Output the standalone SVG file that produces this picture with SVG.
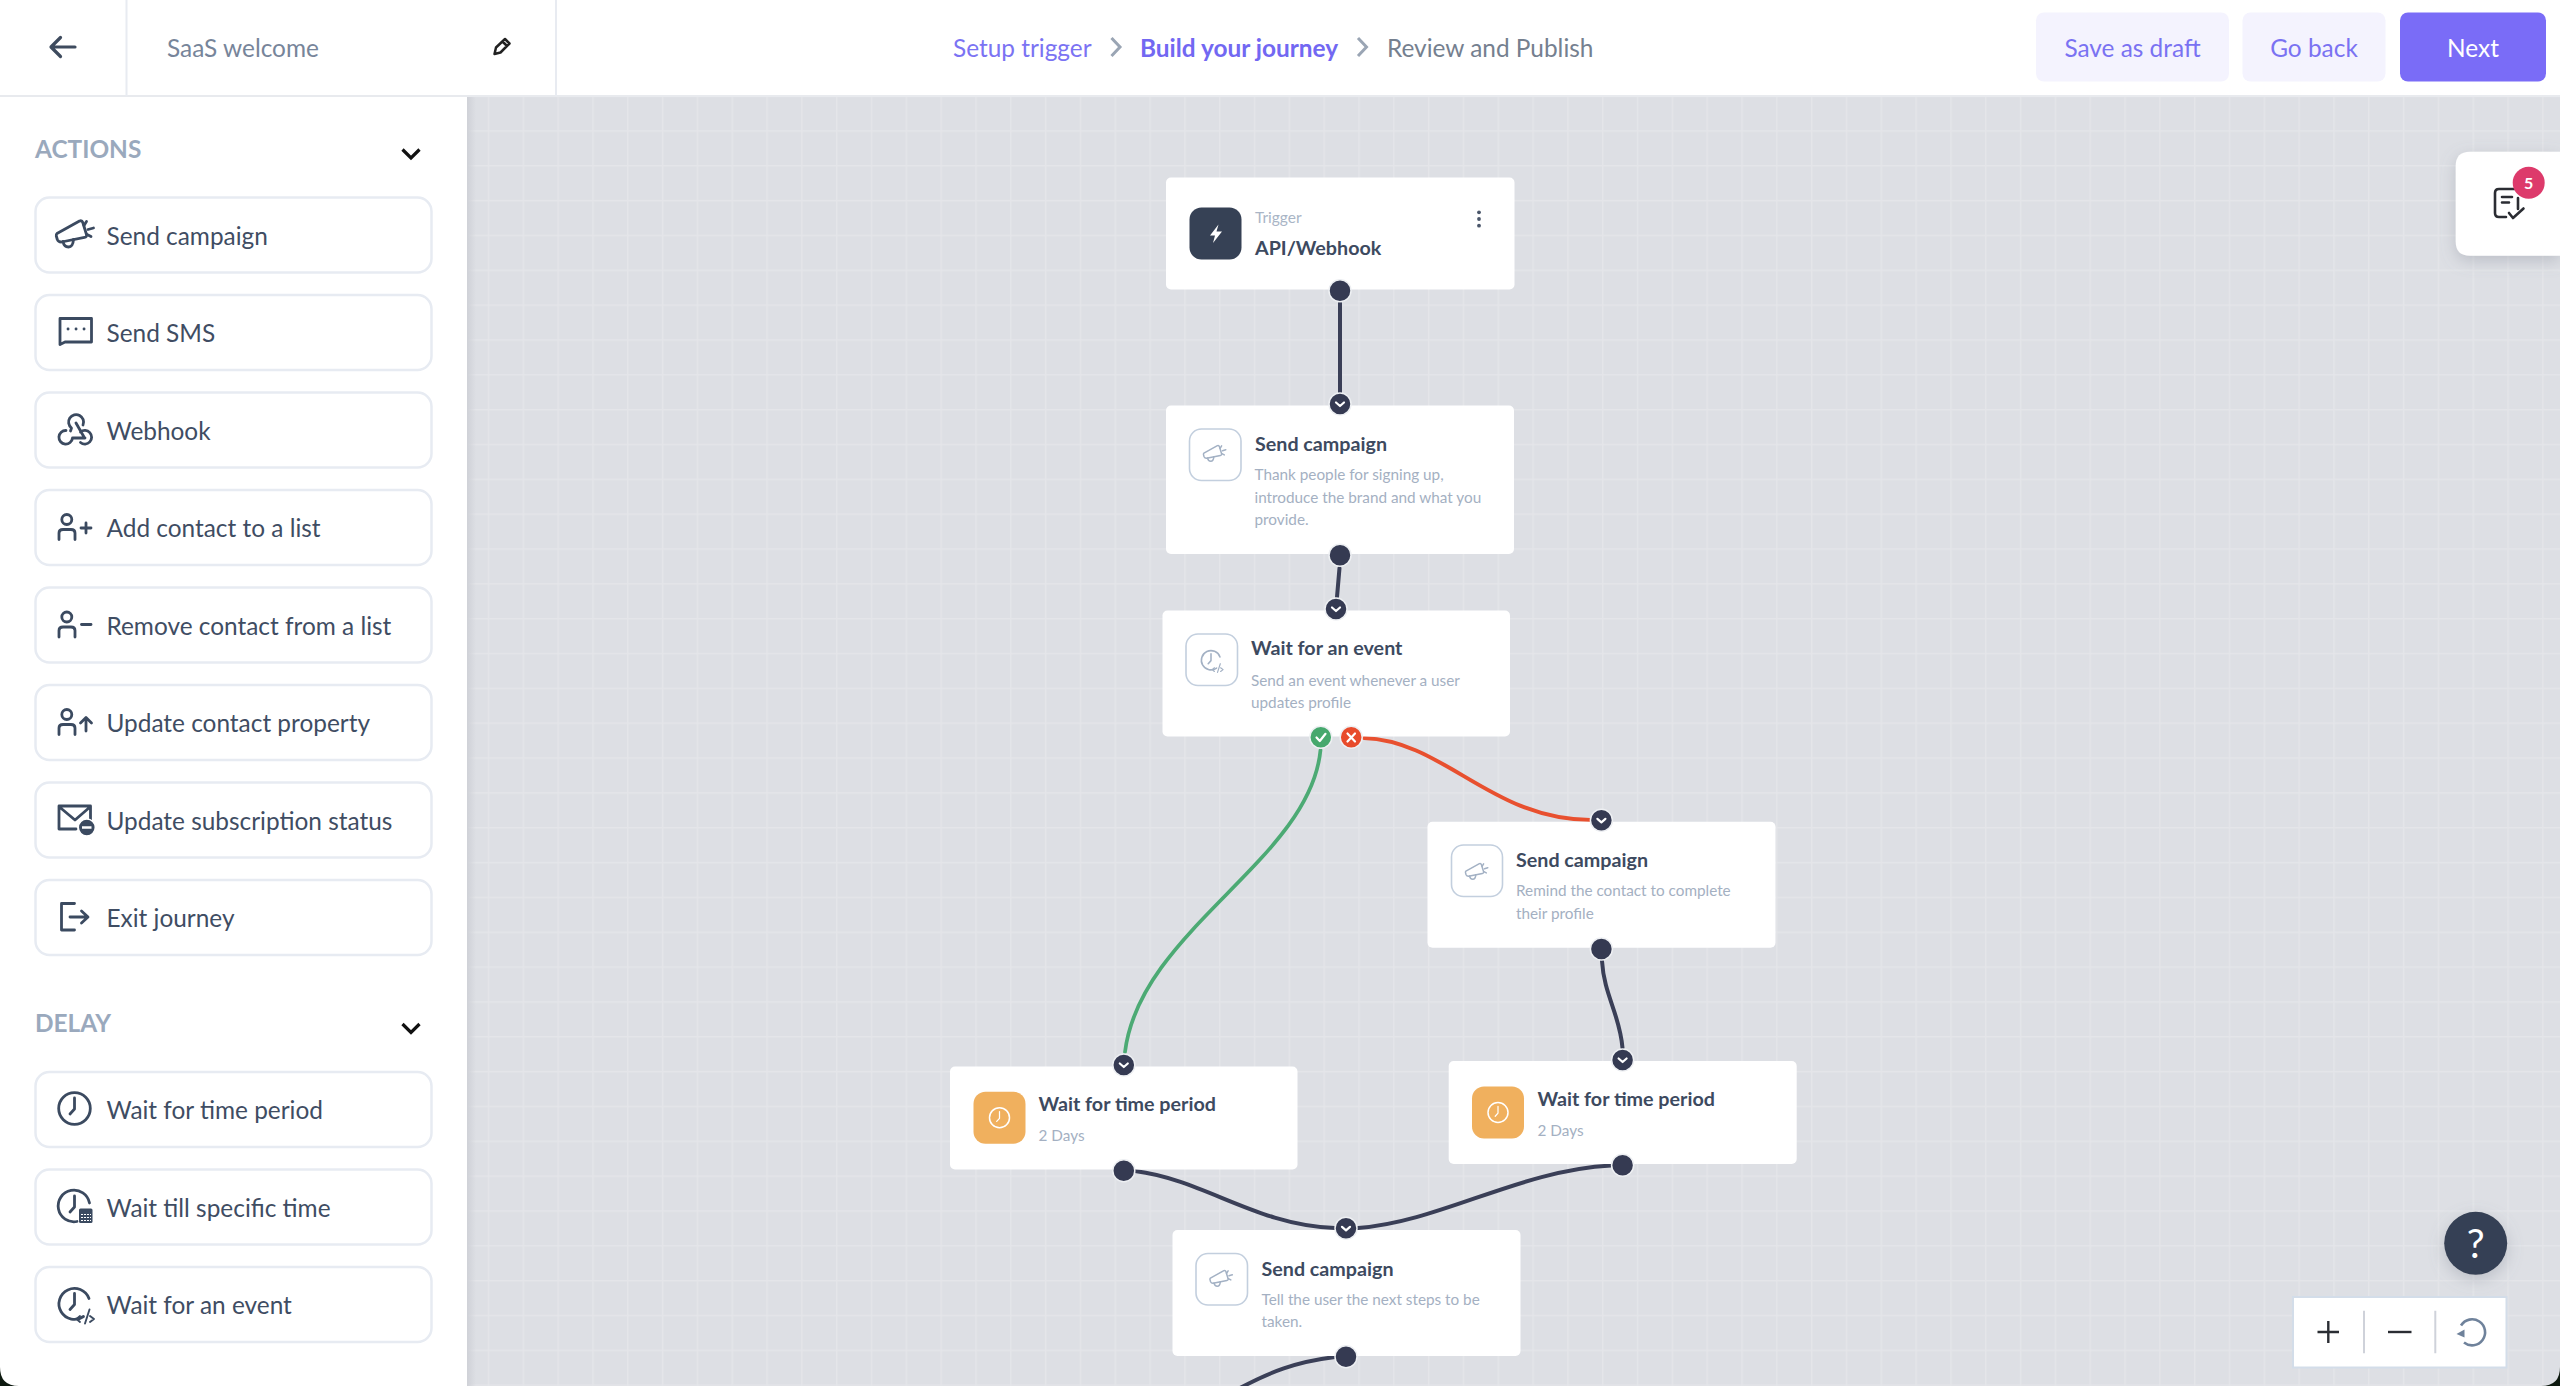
<svg xmlns="http://www.w3.org/2000/svg" width="2560" height="1386" viewBox="0 0 2560 1386">
<style>
text{font-family:Lato,"Open Sans","Liberation Sans",sans-serif}
.btn{fill:#fff;stroke:#e7ebf2;stroke-width:2.5}
.lbl{font-size:24.4px;fill:#3f4d63}
.sec{font-size:24.4px;font-weight:700;fill:#9aa9bd}
.ic{fill:none;stroke:#3b4a60;stroke-width:2.8;stroke-linecap:round;stroke-linejoin:round}
.card{fill:#fff}
.tile{fill:#fff;stroke:#c3cfde;stroke-width:1.6}
.tt{font-size:19.7px;font-weight:700;fill:#3d4a5f}
.ds{font-size:15.3px;fill:#a4b0c2}
.nic{fill:none;stroke:#a3b1c4;stroke-linecap:round;stroke-linejoin:round}
.wic{fill:none;stroke:#fff;stroke-linecap:round;stroke-linejoin:round}
.in{fill:#353a52;stroke:#eef0f3;stroke-width:1.5}
.chev{fill:none;stroke:#fff;stroke-width:2.2;stroke-linecap:round;stroke-linejoin:round}
.wire{fill:none;stroke:#3a3f57;stroke-width:4;stroke-linecap:round}
.crumb{font-size:24.4px}
.act{font-size:24.4px;fill:#7a72f2}
.lite{fill:#f4f3fe}
</style>
<defs>
<pattern id="grid" patternUnits="userSpaceOnUse" x="0.3" y="25.7" width="34.82" height="34.84">
<rect width="34.82" height="34.84" fill="#dddfe4"/>
<rect x="0" y="0" width="1.5" height="34.84" fill="#e4e5e9"/>
<rect x="0" y="0" width="34.82" height="1.5" fill="#e4e5e9"/>
</pattern>
<linearGradient id="sh" x1="0" x2="1" y1="0" y2="0"><stop offset="0" stop-color="#cfd1d7"/><stop offset="1" stop-color="#cfd1d7" stop-opacity="0"/></linearGradient>
<filter id="soft" x="-40%" y="-40%" width="180%" height="180%"><feDropShadow dx="0" dy="5" stdDeviation="8" flood-color="#7b8190" flood-opacity=".35"/></filter>
<g id="mega">
<path d="M1.500 13.500 L24 1 Q26.500 .2 27.300 2.500 L31 14.500 Q31.500 17 29 17.400 L6 22 Q3 22.200 1.800 19.500 L.8 16 Q.6 14.300 1.500 13.500 Z"/>
<path d="M7.500 21.500 Q8.500 27 13 27 Q17.500 27 18 19.500"/>
<path d="M28.500 5.500 L31 1.500 M32.500 9.500 L38 8 M31.500 14.500 L35.500 16.500"/>
</g>
<g id="clockhand"><path d="M0 -10 V1 L-4.500 6"/></g>
<g id="evt">
<path d="M9 13 A15.500 15.500 0 1 1 14.500 -5"/><path d="M0 -10 V1 L-4.500 6"/>
<path d="M5.500 12.500 L2 15.500 L5.500 18.500 M15 6 L10.500 20 M15.500 12.500 L19.500 15.500 L15.500 18.500" stroke-width="1.900"/>
</g>
</defs>

<rect width="2560" height="1386" fill="url(#grid)"/>

<g id="topbar">
<rect width="2560" height="96" fill="#fff"/>
<rect y="95" width="2560" height="2" fill="#e8eaee"/>
<rect x="125.500" width="2" height="96" fill="#e8ebf1"/>
<rect x="555" width="2" height="96" fill="#e8ebf1"/>
<path d="M75 47 H52 M60.500 37.500 L51 47 L60.500 56.500" fill="none" stroke="#3e4b5e" stroke-width="3.200" stroke-linecap="round" stroke-linejoin="round"/>
<text x="167" y="56.500" font-size="24.400" fill="#77859a">SaaS welcome</text>
<path d="M494.500 54 L496 47.500 L505 39 L509.500 43.500 L500.500 52.500 Z M502.500 41.500 L507 46" fill="none" stroke="#222" stroke-width="2.500" stroke-linejoin="round"/>
<text class="crumb" x="953" y="56.500" fill="#7b73f3">Setup trigger</text>
<path d="M1111.500 38 L1120 47 L1111.500 56" fill="none" stroke="#9aa5b4" stroke-width="3"/>
<text class="crumb" x="1140" y="56.500" font-weight="700" fill="#7268f2">Build your journey</text>
<path d="M1358 38 L1366.500 47 L1358 56" fill="none" stroke="#9aa5b4" stroke-width="3"/>
<text class="crumb" x="1387" y="56.500" fill="#75808f">Review and Publish</text>
<rect class="lite" x="2036" y="12.500" width="193" height="69" rx="8"/>
<text class="act" x="2132.500" y="56.500" text-anchor="middle">Save as draft</text>
<rect class="lite" x="2242.500" y="12.500" width="143" height="69" rx="8"/>
<text class="act" x="2314" y="56.500" text-anchor="middle">Go back</text>
<rect x="2400" y="12.500" width="146" height="69" rx="8" fill="#7a6cf7"/>
<text x="2473" y="56.500" font-size="24.400" fill="#fff" text-anchor="middle">Next</text>
</g>

<g id="sidebar">
<rect y="97" width="467" height="1289" fill="#fff"/>
<rect x="467" y="97" width="9" height="1289" fill="url(#sh)"/>
<text class="sec" x="35" y="157.500">ACTIONS</text>
<path d="M402.500 149.500 L411 158 L419.500 149.500" fill="none" stroke="#111" stroke-width="3.200"/>
<text class="sec" x="35" y="1031.500">DELAY</text>
<path d="M402.500 1024 L411 1032.500 L419.500 1024" fill="none" stroke="#111" stroke-width="3.200"/>

<g id="item-send-campaign"><rect class="btn" x="35.500" y="197.500" width="396" height="75" rx="14"/><use href="#mega" class="ic" x="55.500" y="220"/><text class="lbl" x="106.500" y="244.500">Send campaign</text></g>

<g id="item-send-sms"><rect class="btn" x="35.500" y="295" width="396" height="75" rx="14"/>
<path class="ic" d="M60 344.500 V318.500 H91.500 V342 H65 Z"/><path class="ic" d="M68 329 h.1 M76 329 h.1 M84 329 h.1"/>
<text class="lbl" x="106.500" y="342">Send SMS</text></g>

<g id="item-webhook"><rect class="btn" x="35.500" y="392.500" width="396" height="75" rx="14"/>
<path class="ic" d="M70.500 431 L71.500 428 A7.500 7.500 0 1 1 83 425 M76 423 L84 437 M66 430.500 A6.800 6.800 0 1 0 72.500 438 H85 M80.500 432 A6.800 6.800 0 1 1 80.500 442.500" stroke-width="2.600"/>
<text class="lbl" x="106.500" y="439.500">Webhook</text></g>

<g id="item-add-contact"><rect class="btn" x="35.500" y="490" width="396" height="75" rx="14"/>
<circle class="ic" cx="66.800" cy="519.500" r="5"/><path class="ic" d="M59 539.500 V533 Q59 529.500 63 529.500 H71 Q75 529.500 75 533 V539.500"/><path class="ic" d="M81 528 H91 M86 523 V533" stroke-width="3"/>
<text class="lbl" x="106.500" y="537">Add contact to a list</text></g>

<g id="item-remove-contact"><rect class="btn" x="35.500" y="587.500" width="396" height="75" rx="14"/>
<circle class="ic" cx="66.800" cy="617" r="5"/><path class="ic" d="M59 637 V630.500 Q59 627 63 627 H71 Q75 627 75 630.500 V637"/><path class="ic" d="M81.500 624.500 H91" stroke-width="3"/>
<text class="lbl" x="106.500" y="634.500">Remove contact from a list</text></g>

<g id="item-update-contact"><rect class="btn" x="35.500" y="685" width="396" height="75" rx="14"/>
<circle class="ic" cx="66.800" cy="714.500" r="5"/><path class="ic" d="M59 734.500 V728 Q59 724.500 63 724.500 H71 Q75 724.500 75 728 V734.500"/><path class="ic" d="M86 731 V718 M80.500 723 L86 717.500 L91.500 723" stroke-width="3"/>
<text class="lbl" x="106.500" y="732">Update contact property</text></g>

<g id="item-update-subscription"><rect class="btn" x="35.500" y="782.500" width="396" height="75" rx="14"/>
<path class="ic" d="M76 829 H59 V806 H90.500 V820 M59.500 807 L75 820 L90 807"/>
<circle cx="86.800" cy="827.500" r="8.500" fill="#3b4a60" stroke="#fff" stroke-width="1.500"/><path d="M82 827.500 H91.500" stroke="#fff" stroke-width="2.500"/>
<text class="lbl" x="106.500" y="829.500">Update subscription status</text></g>

<g id="item-exit"><rect class="btn" x="35.500" y="880" width="396" height="75" rx="14"/>
<path class="ic" d="M74.500 903.500 H61.500 V930 H74.500 M70 917 H87.500 M81.500 911 L88 917 L81.500 923"/>
<text class="lbl" x="106.500" y="927">Exit journey</text></g>

<g id="item-wait-period"><rect class="btn" x="35.500" y="1072" width="396" height="75" rx="14"/>
<circle class="ic" cx="74.500" cy="1108.500" r="15.800"/><use href="#clockhand" class="ic" x="74.500" y="1108"/>
<text class="lbl" x="106.500" y="1119">Wait for time period</text></g>

<g id="item-wait-till"><rect class="btn" x="35.500" y="1169.500" width="396" height="75" rx="14"/>
<path class="ic" d="M77 1221.500 A15.800 15.800 0 1 1 89.500 1203"/><use href="#clockhand" class="ic" x="74.500" y="1206"/>
<rect x="79" y="1208.500" width="13.500" height="14.500" rx="1.500" fill="#3b4a60"/>
<path d="M81 1214.500 h10 M81 1217.500 h10 M81 1220.500 h10" stroke="#fff" stroke-width="1.100" stroke-dasharray="2 1"/>
<text class="lbl" x="106.500" y="1216.500">Wait till specific time</text></g>

<g id="item-wait-event"><rect class="btn" x="35.500" y="1267" width="396" height="75" rx="14"/>
<use href="#evt" class="ic" x="74.500" y="1303.500"/>
<text class="lbl" x="106.500" y="1314">Wait for an event</text></g>
</g>

<g id="connectors">
<path class="wire" d="M1340 303 V393"/>
<path class="wire" d="M1339.500 568 L1337 597"/>
<path class="wire" style="stroke:#e8502f" d="M1364 738 C1445 741 1490 819 1590 820"/>
<path class="wire" style="stroke:#4caa74;stroke-width:3.700" d="M1320.500 750 C1310 860 1140 930 1125 1052"/>
<path class="wire" d="M1602 961 C1604 995 1620 1015 1622.500 1048"/>
<path class="wire" d="M1135 1171 C1205 1180 1255 1225 1335 1228"/>
<path class="wire" d="M1358 1228 C1440 1222 1520 1170 1611 1165.500"/>
<path class="wire" d="M1335 1357 C1295 1362 1270 1372 1240 1388"/>
</g>

<g id="node-trigger">
<rect class="card" x="1166" y="177.500" width="348.500" height="112" rx="5"/>
<rect x="1189.500" y="207.500" width="52" height="52" rx="12" fill="#364155"/>
<path d="M1218.500 224.500 L1210 235.500 H1215 L1213 243 L1222 231.500 H1216.500 Z" fill="#fff"/>
<text x="1255" y="222.500" font-size="15.500" fill="#a9b5c6">Trigger</text>
<text class="tt" x="1255" y="254.500">API/Webhook</text>
<circle cx="1479" cy="212.300" r="1.900" fill="#4a566a"/><circle cx="1479" cy="219" r="1.900" fill="#4a566a"/><circle cx="1479" cy="225.700" r="1.900" fill="#4a566a"/>
<circle class="in" cx="1340" cy="290.700" r="11"/>
</g>

<g id="node-send-campaign-1">
<rect class="card" x="1166" y="405.500" width="348" height="148.500" rx="5"/>
<rect class="tile" x="1189.500" y="429" width="51.500" height="51.500" rx="12"/>
<use href="#mega" class="nic" transform="translate(1203 445) scale(.6)" stroke-width="2.500"/>
<text class="tt" x="1255" y="451">Send campaign</text>
<text class="ds" x="1254.500" y="480">Thank people for signing up,</text>
<text class="ds" x="1254.500" y="502.500">introduce the brand and what you</text>
<text class="ds" x="1254.500" y="525">provide.</text>
<circle class="in" cx="1340" cy="404" r="11"/><path class="chev" d="M1336 402.500 L1340 406 L1344 402.500"/>
<circle class="in" cx="1340" cy="555.300" r="11"/>
</g>

<g id="node-wait-event">
<rect class="card" x="1162.500" y="610.500" width="347.500" height="126" rx="5"/>
<rect class="tile" x="1186" y="634" width="51.500" height="51.500" rx="12"/>
<use href="#evt" class="nic" transform="translate(1211 660) scale(.62)" stroke-width="2.500"/>
<text class="tt" x="1251" y="655">Wait for an event</text>
<text class="ds" x="1251" y="685.500">Send an event whenever a user</text>
<text class="ds" x="1251" y="708">updates profile</text>
<circle class="in" cx="1336" cy="609" r="11"/><path class="chev" d="M1332 607.500 L1336 611 L1340 607.500"/>
<circle cx="1320.800" cy="737.300" r="11" fill="#46a86d" stroke="#eef0f3" stroke-width="1.500"/><path class="chev" d="M1316.500 737.500 L1319.800 741 L1325.500 733.800"/>
<circle cx="1351.200" cy="737.300" r="11" fill="#e84b2b" stroke="#eef0f3" stroke-width="1.500"/><path class="chev" d="M1347.500 733.500 L1355 741.500 M1355 733.500 L1347.500 741.500"/>
</g>

<g id="node-send-campaign-2">
<rect class="card" x="1427.500" y="821.700" width="348" height="126" rx="5"/>
<rect class="tile" x="1451.500" y="845" width="51" height="51.500" rx="12"/>
<use href="#mega" class="nic" transform="translate(1465 863) scale(.6)" stroke-width="2.500"/>
<text class="tt" x="1516" y="867">Send campaign</text>
<text class="ds" x="1516" y="896">Remind the contact to complete</text>
<text class="ds" x="1516" y="919">their profile</text>
<circle class="in" cx="1601.400" cy="820.300" r="11"/><path class="chev" d="M1597.400 818.800 L1601.400 822.300 L1605.400 818.800"/>
<circle class="in" cx="1601.400" cy="949" r="11"/>
</g>

<g id="node-wait-period-1">
<rect class="card" x="950" y="1066.500" width="347.500" height="103" rx="5"/>
<rect x="973.500" y="1091.700" width="52" height="52" rx="12" fill="#f0b05e"/>
<circle class="wic" cx="999.500" cy="1117.700" r="10" stroke-width="1.500"/><use href="#clockhand" class="wic" transform="translate(999.500 1117.700) scale(.62)" stroke-width="2"/>
<text class="tt" x="1038.500" y="1111">Wait for time period</text>
<text class="ds" x="1038.500" y="1141">2 Days</text>
<circle class="in" cx="1123.800" cy="1065" r="11"/><path class="chev" d="M1119.800 1063.500 L1123.800 1067 L1127.800 1063.500"/>
<circle class="in" cx="1123.800" cy="1170.700" r="11"/>
</g>

<g id="node-wait-period-2">
<rect class="card" x="1448.700" y="1061" width="348" height="103" rx="5"/>
<rect x="1472" y="1086.500" width="52" height="52" rx="12" fill="#f0b05e"/>
<circle class="wic" cx="1498" cy="1112.500" r="10" stroke-width="1.500"/><use href="#clockhand" class="wic" transform="translate(1498 1112.500) scale(.62)" stroke-width="2"/>
<text class="tt" x="1537.500" y="1106">Wait for time period</text>
<text class="ds" x="1537.500" y="1135.700">2 Days</text>
<circle class="in" cx="1622.600" cy="1060" r="11"/><path class="chev" d="M1618.600 1058.500 L1622.600 1062 L1626.600 1058.500"/>
<circle class="in" cx="1622.600" cy="1165.300" r="11"/>
</g>

<g id="node-send-campaign-3">
<rect class="card" x="1172.500" y="1230" width="348" height="126" rx="5"/>
<rect class="tile" x="1196" y="1253.500" width="51.500" height="51.500" rx="12"/>
<use href="#mega" class="nic" transform="translate(1209.500 1270) scale(.6)" stroke-width="2.500"/>
<text class="tt" x="1261.500" y="1275.500">Send campaign</text>
<text class="ds" x="1261.500" y="1304.500">Tell the user the next steps to be</text>
<text class="ds" x="1261.500" y="1327">taken.</text>
<circle class="in" cx="1346" cy="1228.300" r="11"/><path class="chev" d="M1342 1226.800 L1346 1230.300 L1350 1226.800"/>
<circle class="in" cx="1346" cy="1356.700" r="11"/>
</g>

<g id="checklist">
<path d="M2560 151.700 H2470 Q2455.700 151.700 2455.700 166 V241.500 Q2455.700 255.700 2470 255.700 H2560 Z" fill="#fff" filter="url(#soft)"/>
<path d="M2518 189 H2499 Q2495 189 2495 193 V213 Q2495 217 2499 217 H2506 M2518 198 V209 M2502 197 H2512 M2502 202.500 H2509 M2509 213 L2513 218 L2523.500 208.500" fill="none" stroke="#2b2d33" stroke-width="2.600" stroke-linecap="round" stroke-linejoin="round"/>
<circle cx="2528.700" cy="182.700" r="16" fill="#dd3a6b"/>
<text x="2528.700" y="188.500" font-size="16" font-weight="700" fill="#fff" text-anchor="middle">5</text>
</g>

<g id="help">
<circle cx="2475.700" cy="1243.300" r="31.500" fill="#364155" filter="url(#soft)"/>
<text x="2475.700" y="1258" font-size="40" fill="#fff" text-anchor="middle">?</text>
</g>

<g id="zoom-controls">
<rect x="2293" y="1297" width="213.500" height="70.500" fill="#fff" stroke="#d3dde9" stroke-width="2"/>
<path d="M2317.500 1332 H2339 M2328.300 1321 V1343" stroke="#2a2d33" stroke-width="2.400" fill="none"/>
<path d="M2388 1332 H2411.500" stroke="#2a2d33" stroke-width="2.400"/>
<path d="M2364 1310.700 V1353.300 M2435.300 1310.700 V1353.300" stroke="#cfd2da" stroke-width="2"/>
<path d="M2461 1325.500 A13 13 0 1 1 2464 1342.500" fill="none" stroke="#6f829b" stroke-width="2.600"/>
<path d="M2456.500 1334 L2464.500 1329.500 L2464.500 1337.500 Z" fill="#6f829b"/>
</g>

<g id="window-corners" fill="#0e1a10">
<path d="M0 1367 Q0 1386 19 1386 H0 Z"/>
<path d="M2560 1367 Q2560 1386 2541 1386 H2560 Z"/>
</g>
</svg>
